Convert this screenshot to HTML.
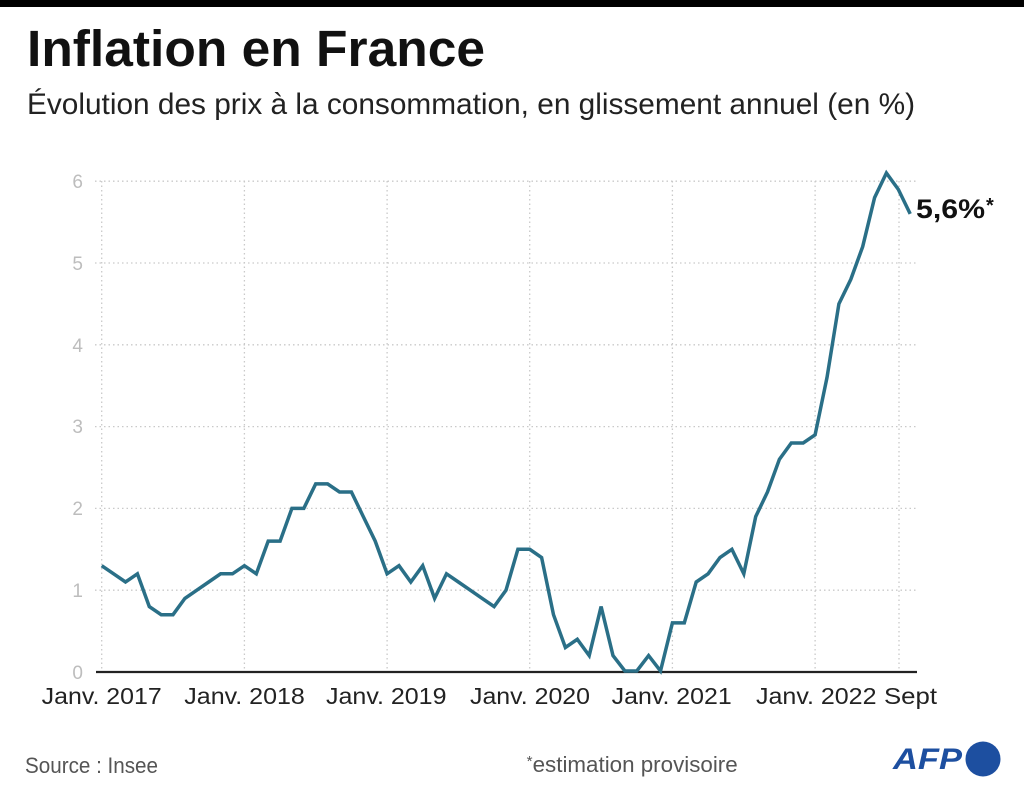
<!DOCTYPE html>
<html>
<head>
<meta charset="utf-8">
<style>
  html, body { margin: 0; padding: 0; background: #ffffff; }
  svg { display: block; }
  text { font-family: "Liberation Sans", "DejaVu Sans", sans-serif; }
</style>
</head>
<body>
<svg width="1024" height="795" viewBox="0 0 1024 795" xmlns="http://www.w3.org/2000/svg">
  <rect x="0" y="0" width="1024" height="795" fill="#ffffff"/>
  <rect x="0" y="0" width="1024" height="7" fill="#000000"/>

  <!-- Title & subtitle -->
  <text x="27" y="66" font-size="51" font-weight="bold" fill="#111111" textLength="458" lengthAdjust="spacingAndGlyphs">Inflation en France</text>
  <text x="27" y="114" font-size="30" fill="#222222" textLength="888" lengthAdjust="spacingAndGlyphs">Évolution des prix à la consommation, en glissement annuel (en %)</text>

  <!-- Grid -->
  <g stroke="#c9c9c9" stroke-width="1.3" stroke-dasharray="1.5 3" fill="none">
    <line x1="95" y1="181.2" x2="917" y2="181.2"/>
    <line x1="95" y1="263" x2="917" y2="263"/>
    <line x1="95" y1="344.8" x2="917" y2="344.8"/>
    <line x1="95" y1="426.6" x2="917" y2="426.6"/>
    <line x1="95" y1="508.4" x2="917" y2="508.4"/>
    <line x1="95" y1="590.2" x2="917" y2="590.2"/>
    <line x1="101.7" y1="181" x2="101.7" y2="672"/>
    <line x1="244.4" y1="181" x2="244.4" y2="672"/>
    <line x1="387.1" y1="181" x2="387.1" y2="672"/>
    <line x1="529.7" y1="181" x2="529.7" y2="672"/>
    <line x1="672.4" y1="181" x2="672.4" y2="672"/>
    <line x1="815.1" y1="181" x2="815.1" y2="672"/>
    <line x1="899" y1="181" x2="899" y2="672"/>
  </g>

  <!-- Y labels -->
  <g font-size="19" fill="#bdbdbd" text-anchor="end">
    <text x="83" y="188">6</text>
    <text x="83" y="270">5</text>
    <text x="83" y="352">4</text>
    <text x="83" y="433">3</text>
    <text x="83" y="515">2</text>
    <text x="83" y="597">1</text>
    <text x="83" y="679">0</text>
  </g>

  <!-- Axis baseline -->
  <line x1="96" y1="672" x2="917" y2="672" stroke="#222222" stroke-width="2.2"/>

  <!-- Data line -->
  <polyline fill="none" stroke="#2a6f87" stroke-width="3.5" stroke-linejoin="miter" stroke-linecap="butt"
    points="101.7,565.7 113.6,573.8 125.5,582.0 137.4,573.8 149.3,606.6 161.2,614.7 173.0,614.7 184.9,598.4 196.8,590.2 208.7,582.0 220.6,573.8 232.5,573.8
244.4,565.7 256.3,573.8 268.2,541.1 280.1,541.1 291.9,508.4 303.8,508.4 315.7,483.9 327.6,483.9 339.5,492.0 351.4,492.0 363.3,516.6 375.2,541.1
387.1,573.8 399.0,565.7 410.8,582.0 422.7,565.7 434.6,598.4 446.5,573.8 458.4,582.0 470.3,590.2 482.2,598.4 494.1,606.6 506.0,590.2 517.9,549.3
529.7,549.3 541.6,557.5 553.5,614.7 565.4,647.5 577.3,639.3 589.2,655.6 601.1,606.6 613.0,655.6 624.9,671 636.8,671 648.6,655.6 660.5,671
672.4,622.9 684.3,622.9 696.2,582.0 708.1,573.8 720.0,557.5 731.9,549.3 743.8,573.8 755.7,516.6 767.5,492.0 779.4,459.3 791.3,443.0 803.2,443.0
815.1,434.8 827.0,377.5 838.9,303.9 850.8,279.4 862.7,246.6 874.6,197.6 886.4,173.0 898.3,189.4 910.2,213.9"/>

  <!-- End label -->
  <text x="916" y="218" font-size="27" font-weight="bold" fill="#111111" textLength="69" lengthAdjust="spacingAndGlyphs">5,6%</text>
  <text x="986" y="212" font-size="20" font-weight="bold" fill="#111111">*</text>

  <!-- X labels -->
  <g font-size="23" fill="#222222">
    <text x="41.7" y="704" textLength="120" lengthAdjust="spacingAndGlyphs">Janv. 2017</text>
    <text x="184.3" y="704" textLength="120.5" lengthAdjust="spacingAndGlyphs">Janv. 2018</text>
    <text x="326" y="704" textLength="120.5" lengthAdjust="spacingAndGlyphs">Janv. 2019</text>
    <text x="470" y="704" textLength="120" lengthAdjust="spacingAndGlyphs">Janv. 2020</text>
    <text x="611.7" y="704" textLength="120" lengthAdjust="spacingAndGlyphs">Janv. 2021</text>
    <text x="756" y="704" textLength="120.5" lengthAdjust="spacingAndGlyphs">Janv. 2022</text>
    <text x="884" y="704" textLength="53" lengthAdjust="spacingAndGlyphs">Sept</text>
  </g>

  <!-- Footer -->
  <text x="25" y="773" font-size="22" fill="#555555" textLength="133" lengthAdjust="spacingAndGlyphs">Source : Insee</text>
  <text x="526.7" y="772" font-size="22" fill="#555555" textLength="211" lengthAdjust="spacingAndGlyphs"><tspan font-size="15" dy="-6">*</tspan><tspan dy="6">estimation provisoire</tspan></text>

  <!-- AFP logo -->
  <text x="893" y="769" font-size="30" font-weight="bold" font-style="italic" fill="#1d4fa0" textLength="69" lengthAdjust="spacingAndGlyphs">AFP</text>
  <circle cx="983" cy="759" r="17.5" fill="#1d4fa0"/>
</svg>
</body>
</html>
